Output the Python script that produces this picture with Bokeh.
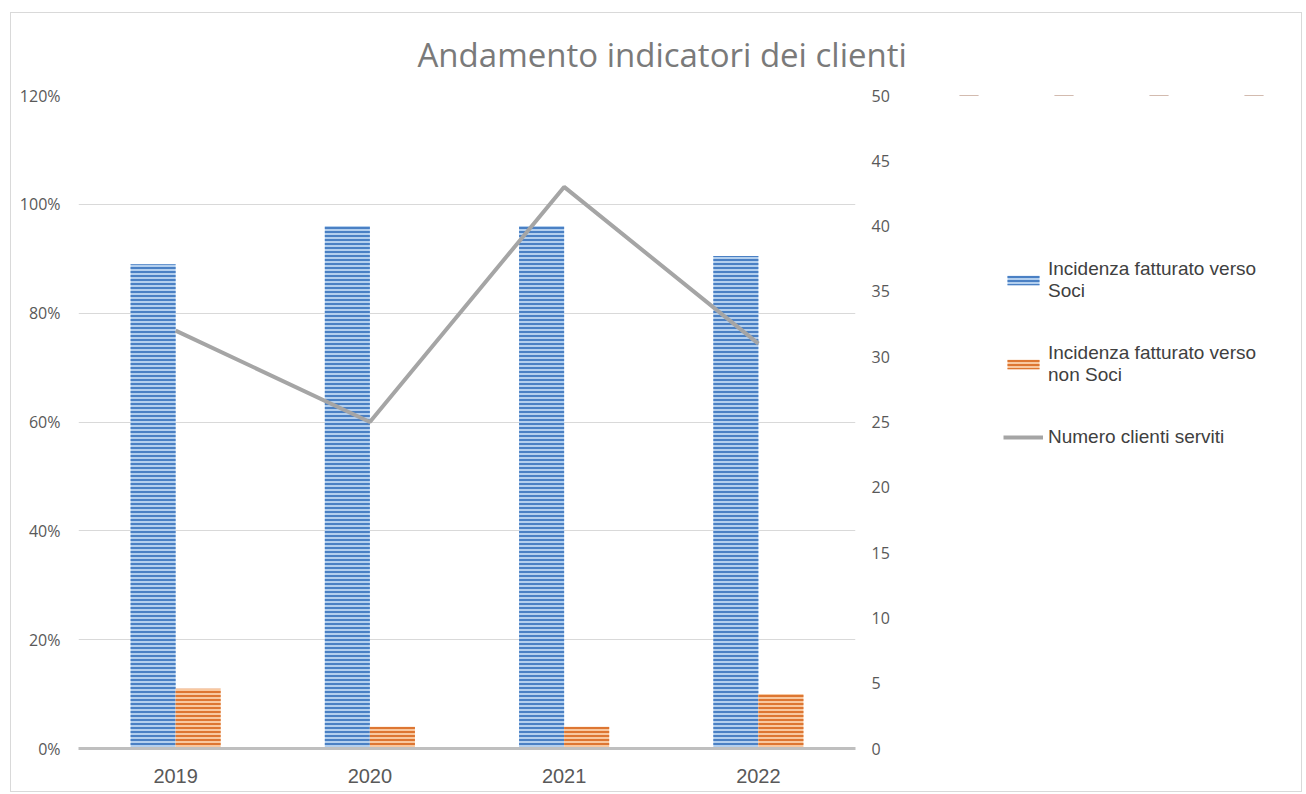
from bokeh.plotting import figure
from bokeh.layouts import row
from bokeh.models import (ColumnDataSource, Range1d, LinearAxis, FixedTicker,
                          NumeralTickFormatter, Legend, LegendItem, FactorRange)
from bokeh.transform import dodge
from bokeh.embed import file_html
from bokeh.resources import INLINE

years = ["2019", "2020", "2021", "2022"]
soci = [0.89, 0.96, 0.96, 0.905]
non_soci = [0.11, 0.04, 0.04, 0.10]
clienti = [32, 25, 43, 31]

src = ColumnDataSource(dict(years=years, soci=soci, non_soci=non_soci, clienti=clienti))

BLUE = dict(fill_color="#b3cfee", line_color=None, hatch_pattern="horizontal_line",
            hatch_color="#4a80c4", hatch_scale=4, hatch_weight=2)
ORANGE = dict(fill_color="#f8c8a0", line_color=None, hatch_pattern="horizontal_line",
              hatch_color="#dd7632", hatch_scale=4, hatch_weight=2)
LINE = dict(line_color="#a5a5a5", line_width=4)

p = figure(width=910, height=778, x_range=FactorRange(*years, range_padding=0),
           y_range=Range1d(0, 1.2), output_backend="svg", toolbar_location=None,
           min_border_left=67, min_border_right=66, min_border_top=82, min_border_bottom=43)
p.outline_line_color = None
p.extra_y_ranges = {"right": Range1d(0, 50)}

bw = 0.232
b1 = p.vbar(x=dodge("years", -bw / 2, range=p.x_range), top="soci", width=bw, source=src, **BLUE)
b2 = p.vbar(x=dodge("years", bw / 2, range=p.x_range), top="non_soci", width=bw, source=src, **ORANGE)
l1 = p.line(x="years", y="clienti", source=src, y_range_name="right", **LINE)

# left axis
p.yaxis.ticker = FixedTicker(ticks=[0, 0.2, 0.4, 0.6, 0.8, 1.0, 1.2])
p.yaxis.formatter = NumeralTickFormatter(format="0%")
p.yaxis.axis_line_color = None
p.yaxis.major_tick_line_color = None
p.yaxis.minor_tick_line_color = None
p.yaxis.major_label_standoff = 12
p.yaxis.major_label_text_font = "Open Sans"
p.yaxis.major_label_text_font_size = "16px"
p.yaxis.major_label_text_color = "#595959"

# right axis
ra = LinearAxis(y_range_name="right", ticker=FixedTicker(ticks=list(range(0, 55, 5))))
ra.axis_line_color = None
ra.major_tick_line_color = None
ra.minor_tick_line_color = None
ra.major_label_standoff = 10
ra.major_label_text_font = "Open Sans"
ra.major_label_text_font_size = "16px"
ra.major_label_text_color = "#595959"
p.add_layout(ra, "right")

# x axis
p.xaxis.axis_line_color = "#bfbfbf"
p.xaxis.axis_line_width = 3
p.xaxis.major_tick_line_color = None
p.xaxis.minor_tick_line_color = None
p.xaxis.major_label_standoff = 14
p.xaxis.major_label_text_font = "Liberation Sans"
p.xaxis.major_label_text_font_size = "20px"
p.xaxis.major_label_text_color = "#595959"

p.xgrid.grid_line_color = None
p.ygrid.grid_line_color = "#d9d9d9"
p.ygrid.grid_line_width = 1

# title
p.title.text = "Andamento indicatori dei clienti"
p.title.align = "left"
p.title.offset = 339
p.title.vertical_align = "top"
p.title.text_font = "Open Sans"
p.title.text_font_size = "33px"
p.title.text_font_style = "normal"
p.title.text_color = "#7a7a7a"
p.title.standoff = 34

# legend panel: separate figure; its proxy glyphs have zero height and lie outside its ranges
q = figure(width=380, height=778, x_range=FactorRange(*years), y_range=Range1d(-3, -2),
           output_backend="svg", toolbar_location=None,
           x_axis_location=None, y_axis_location=None,
           min_border_left=0, min_border_right=0, min_border_top=0, min_border_bottom=0)
q.outline_line_color = None
q.grid.visible = False
qb1 = q.vbar(x="years", top="soci", bottom="soci", width=0.2, source=src, **BLUE)
qb2 = q.vbar(x="years", top="non_soci", bottom="non_soci", width=0.2, source=src, **ORANGE)
ql1 = q.line(x="years", y="clienti", source=src, **LINE)

legend = Legend(items=[
    LegendItem(label="Incidenza fatturato verso\nSoci", renderers=[qb1]),
    LegendItem(label="Incidenza fatturato verso\nnon Soci", renderers=[qb2]),
    LegendItem(label="Numero clienti serviti", renderers=[ql1]),
], location=(82, 300))
legend.border_line_color = None
legend.background_fill_alpha = 0
legend.label_text_font = "Liberation Sans"
legend.label_text_font_size = "19px"
legend.label_text_line_height = 1.35
legend.label_text_color = "#404040"
legend.glyph_width = 40
legend.glyph_height = 12
legend.label_standoff = 5
legend.spacing = 40
legend.padding = 0
legend.margin = 0
q.add_layout(legend, "center")

layout = row(p, q)
layout.styles = {"border": "1px solid #d9d9d9", "margin-left": "10px", "margin-top": "12px"}

open("out.html", "w").write(file_html(layout, INLINE))
